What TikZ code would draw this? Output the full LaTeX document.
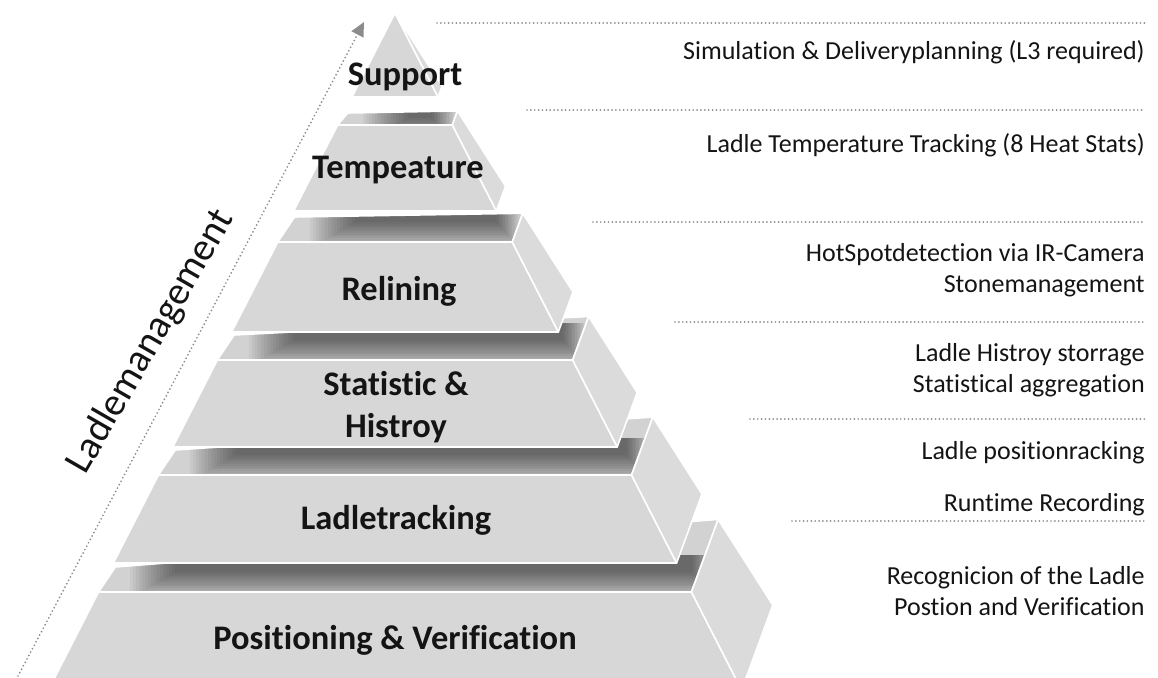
\documentclass[tikz,border=0pt]{standalone}
\usepackage{fontspec}
\setmainfont{Carlito}[Ligatures=NoCommon]
\usetikzlibrary{arrows.meta}

\definecolor{facegray}{HTML}{D7D7D7}
\definecolor{sidegray}{HTML}{DBDBDB}
\definecolor{topgray}{HTML}{D2D2D2}
\definecolor{dotgray}{HTML}{8C8C8C}
\definecolor{inkgray}{HTML}{141414}

\begin{document}
\begin{tikzpicture}[x=0.02cm, y=-0.02cm,
    face/.style={fill=facegray, draw=white, line width=0.9pt, line join=round},
    sideface/.style={fill=sidegray, draw=white, line width=0.9pt, line join=round},
    level/.style={font=\fontsize{19.6}{24}\selectfont\bfseries, text=inkgray, align=center, inner sep=0pt},
    note/.style={font=\fontsize{14.8}{17.6}\selectfont, text=inkgray, align=right, anchor=east, inner sep=0pt},
    sepline/.style={dotgray, line width=1.1pt, line cap=round, dash pattern=on 0pt off 2.2pt}]
    \clip (0,0) rectangle (1158,677);
    \fill[white] (0,0) rectangle (1158,677);

    % blocks from the bottom up: front top / back edge / front bottom
    \foreach \fy/\sy/\by in {592/567/690, 475/450/563, 360/335/447, 242/217/332, 125/113/211}{
        \pgfmathsetmacro\wf{0.512*(\fy-13)}
        \pgfmathsetmacro\wb{0.512*(\by-13)}
        \pgfmathsetmacro\ws{0.512*(\sy-13)}
        \fill[topgray] (395-\wf,\fy) -- (395+\wf,\fy) -- (395+1.09*\wf,\fy-0.245*\wf) -- (399-\ws,\sy) -- cycle;
        \begin{scope}
            \clip (395-\wf,\fy) -- (395+\wf,\fy) -- (395+1.09*\wf,\fy-0.245*\wf) -- (399-\ws,\sy) -- cycle;
            % soft shadow of the block above
            \foreach \k in {0,...,15}{
                \fill[black, opacity=0.038] (414-\ws+3*\k,\sy-12) rectangle (392+1.09*\wf-1.5*\k,\sy+32-1.8*\k);
            }
        \end{scope}
        \draw[white, line width=0.9pt, line join=round] (395-\wf,\fy) -- (395+\wf,\fy) -- (395+1.09*\wf,\fy-0.245*\wf) -- (399-\ws,\sy) -- cycle;
        \filldraw[face] (395-\wf,\fy) -- (395+\wf,\fy) -- (395+\wb,\by) -- (395-\wb,\by) -- cycle;
        \filldraw[sideface] (395+\wf,\fy) -- (395+1.09*\wf,\fy-0.245*\wf) -- (395+1.09*\wb,\by-0.245*\wb) -- (395+\wb,\by) -- cycle;
    }
    \filldraw[face] (395,13) -- (438,97) -- (352,97) -- cycle;
    \filldraw[sideface] (395,13) -- (442,86.5) -- (438,97) -- cycle;

    \node[level, anchor=base] (sup) at (405,85) {Support};
    \node[level, anchor=base] (temp) at (398,178) {Tempeature};
    \node[level, anchor=base] (reli) at (399,300) {Relining};
    \node[level] (stat) at (396,407) {Statistic \&\\Histroy};
    \node[level, anchor=base] (ladl) at (396,529) {Ladletracking};
    \node[level, anchor=base] (posi) at (395,649) {Positioning \& Verification};

    \coordinate (axbot) at (18,676);
    \coordinate (axtop) at (364,22);
    \draw[sepline, -{Triangle[length=8pt,width=7.5pt]}] (axbot) -- (axtop);
    \node[rotate=60, anchor=base, font=\fontsize{22.4}{22.4}\selectfont, text=inkgray, inner sep=0pt] (ladle) at (160,347) {Ladlemanagement};

    \draw[sepline] (437,23) -- (1145,23);
    \draw[sepline] (527,110) -- (1145,110);
    \draw[sepline] (593,222) -- (1145,222);
    \draw[sepline] (675,322) -- (1145,322);
    \draw[sepline] (750,419) -- (1145,419);
    \draw[sepline] (792,521) -- (1145,521);

    \node[note] (dsim) at (1145,52) {Simulation \& Deliveryplanning (L3 required)};
    \node[note] (dtemp) at (1145,145) {Ladle Temperature Tracking (8 Heat Stats)};
    \node[note] (dhot) at (1145,270) {HotSpotdetection via IR-Camera\\Stonemanagement};
    \node[note] (dhist) at (1145,370) {Ladle Histroy storrage\\Statistical aggregation};
    \node[note] (dpos) at (1145,453) {Ladle positionracking};
    \node[note] (drun) at (1145,505) {Runtime Recording};
    \node[note] (drec) at (1145,591) {Recognicion of the Ladle\\Postion and Verification};
\end{tikzpicture}
\end{document}
